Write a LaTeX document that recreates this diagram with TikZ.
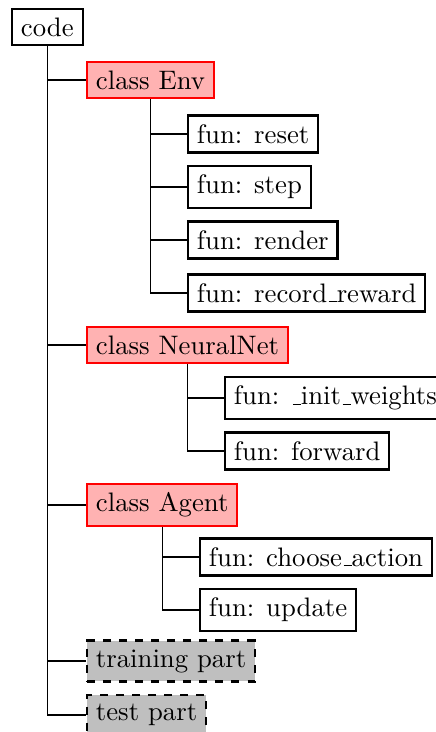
\documentclass[tikz,border=0pt]{standalone}
\usepackage{tikz}
\usetikzlibrary{positioning}
\newcommand{\undsc}{\leavevmode\kern.06em\vbox{\hrule width.3em}}
\tikzset{
  dirbox/.style={draw, thick, inner sep=0.333em, anchor=west},
  clsbox/.style={dirbox, draw=red, fill=red!30},
  funbox/.style={dirbox},
  partbox/.style={dirbox, dashed, fill=gray!50},
}

\begin{document}
\begin{tikzpicture}[x=0.374pt, y=-0.374pt]
  \useasboundingbox (0,0) rectangle (435,732);

  \node (code) [dirbox] at (11,27) {code};

  \node (env) [clsbox] at (86,80) {class Env};
  \node (reset) [funbox] at (187,134) {fun: reset};
  \node (step) [funbox] at (187,187) {fun: step};
  \node (render) [funbox] at (187,240) {fun: render};
  \node (record) [funbox] at (187,293) {fun: record\undsc reward};

  \node (net) [clsbox] at (86,345) {class NeuralNet};
  \node (init) [funbox] at (224,398) {fun: \undsc init\undsc weights};
  \node (forward) [funbox] at (224,451) {fun: forward};

  \node (agent) [clsbox] at (86,505) {class Agent};
  \node (choose) [funbox] at (199,557) {fun: choose\undsc action};
  \node (update) [funbox] at (199,610) {fun: update};

  \node (train) [partbox] at (86,661) {training part};
  \node (test) [partbox] at (86,715) {test part};

  \draw (code.south) |- (env.west);
  \draw (code.south) |- (net.west);
  \draw (code.south) |- (agent.west);
  \draw (code.south) |- (train.west);
  \draw (code.south) |- (test.west);

  \draw (env.south) |- (reset.west);
  \draw (env.south) |- (step.west);
  \draw (env.south) |- (render.west);
  \draw (env.south) |- (record.west);

  \draw (net.south) |- (init.west);
  \draw (net.south) |- (forward.west);

  \draw (agent.south) |- (choose.west);
  \draw (agent.south) |- (update.west);
\end{tikzpicture}
\end{document}
